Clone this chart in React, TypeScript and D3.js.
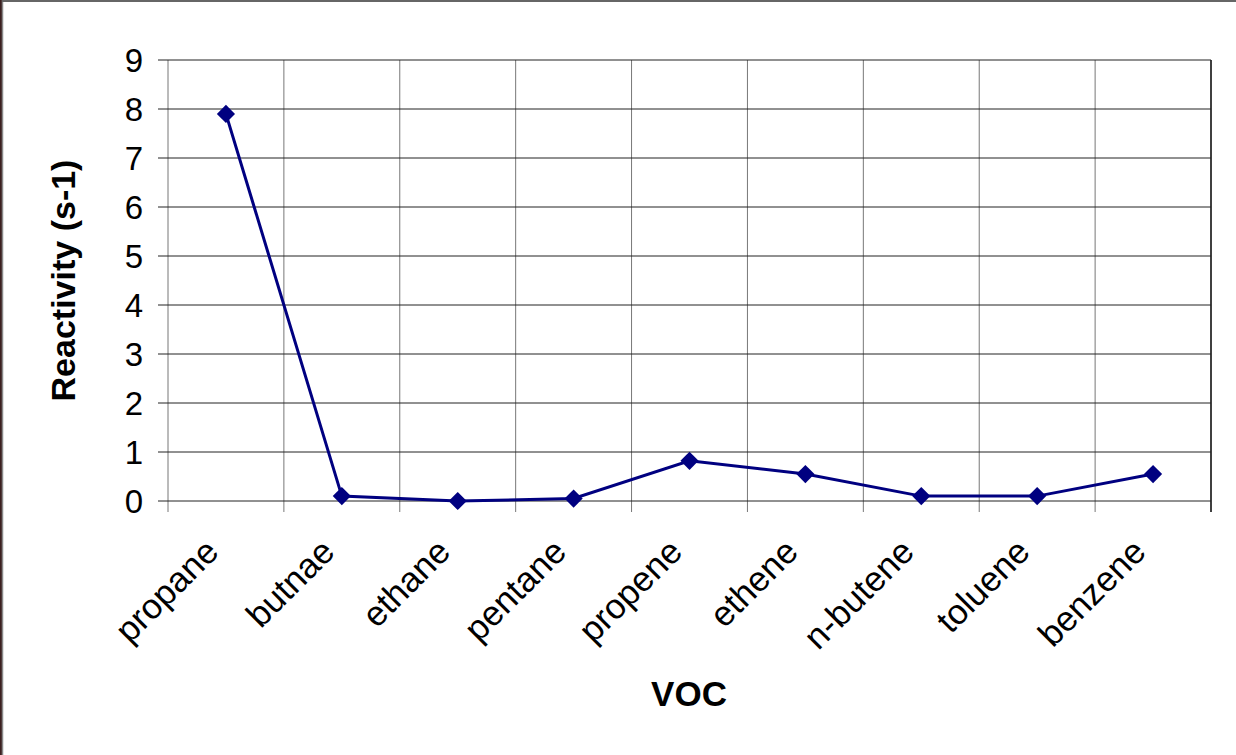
import { useRef, useEffect } from 'react';
import * as d3 from 'd3';

const categories = ['propane', 'butnae', 'ethane', 'pentane', 'propene', 'ethene', 'n-butene', 'toluene', 'benzene'];
const reactivity = [7.9, 0.1, 0, 0.05, 0.82, 0.55, 0.1, 0.1, 0.55];
const yTicks = [0, 1, 2, 3, 4, 5, 6, 7, 8, 9];

const W = 1236;
const H = 755;
const FONT = '"Liberation Sans", Arial, sans-serif';

export default function App() {
  const svgRef = useRef<SVGSVGElement>(null);

  useEffect(() => {
    if (!svgRef.current) return;
    const svg = d3.select(svgRef.current);
    svg.selectAll('*').remove();

    const plot = { left: 168, right: 1211, top: 60, bottom: 501 };

    // frame of the chart area (cropped: only top and left edges visible)
    svg.append('rect').attr('x', 0).attr('y', 0).attr('width', W).attr('height', H).attr('fill', '#fff');
    svg.append('rect').attr('x', 0).attr('y', 0).attr('width', 2).attr('height', H).attr('fill', '#3b2020');
    svg.append('line').attr('x1', 2.5).attr('x2', 2.5).attr('y1', 0).attr('y2', H)
      .attr('stroke', '#888').attr('stroke-width', 1.5);
    svg.append('line').attr('x1', 2).attr('x2', W).attr('y1', 1).attr('y2', 1)
      .attr('stroke', '#666').attr('stroke-width', 2);

    const x = d3.scaleBand<string>().domain(categories).range([plot.left, plot.right]).padding(0);
    const y = d3.scaleLinear().domain([0, 9]).range([plot.bottom, plot.top]);

    // vertical gridlines at category boundaries, with tick marks below the axis
    const bounds = [...categories.map((c) => x(c) ?? 0), plot.right];
    bounds.forEach((bx, i) => {
      svg.append('line')
        .attr('x1', bx).attr('x2', bx)
        .attr('y1', plot.top).attr('y2', plot.bottom + 11)
        .attr('stroke', i === bounds.length - 1 ? '#000' : '#777')
        .attr('stroke-width', i === bounds.length - 1 ? 1.5 : 1);
    });

    // horizontal gridlines + tick marks + labels
    yTicks.forEach((t) => {
      svg.append('line')
        .attr('x1', plot.left - 10).attr('x2', plot.right)
        .attr('y1', y(t)).attr('y2', y(t))
        .attr('stroke', '#222').attr('stroke-width', 1);
      svg.append('text')
        .attr('x', 143).attr('y', y(t))
        .attr('dy', '0.36em')
        .attr('text-anchor', 'end')
        .attr('font-family', FONT).attr('font-size', 33)
        .attr('fill', '#000')
        .text(String(t));
    });

    // category labels, rotated
    categories.forEach((c) => {
      const cx = (x(c) ?? 0) + x.bandwidth() / 2;
      svg.append('text')
        .attr('transform', `translate(${cx - 14},${plot.bottom + 44}) rotate(-45)`)
        .attr('text-anchor', 'end')
        .attr('dy', '0.35em')
        .attr('font-family', FONT).attr('font-size', 35)
        .attr('fill', '#000')
        .text(c);
    });

    // series line
    const pts: [number, number][] = categories.map((c, i) => [(x(c) ?? 0) + x.bandwidth() / 2, y(reactivity[i])]);
    svg.append('path')
      .attr('d', d3.line()(pts))
      .attr('fill', 'none')
      .attr('stroke', '#000080')
      .attr('stroke-width', 3);

    // diamond markers
    const diamond = d3.symbol().type(d3.symbolSquare).size(165);
    pts.forEach(([px, py]) => {
      svg.append('path')
        .attr('d', diamond())
        .attr('transform', `translate(${px},${py}) rotate(45)`)
        .attr('fill', '#000080');
    });

    // axis titles
    svg.append('text')
      .attr('transform', `translate(75,${(plot.top + plot.bottom) / 2}) rotate(-90)`)
      .attr('text-anchor', 'middle')
      .attr('font-family', FONT).attr('font-size', 34).attr('font-weight', 'bold')
      .attr('fill', '#000')
      .text('Reactivity (s-1)');

    svg.append('text')
      .attr('x', 689).attr('y', 706)
      .attr('text-anchor', 'middle')
      .attr('font-family', FONT).attr('font-size', 35).attr('font-weight', 'bold')
      .attr('fill', '#000')
      .text('VOC');
  }, []);

  return (
    <svg
      ref={svgRef}
      width={W}
      height={H}
      style={{ position: 'absolute', left: 0, top: 0, display: 'block' }}
    />
  );
}
